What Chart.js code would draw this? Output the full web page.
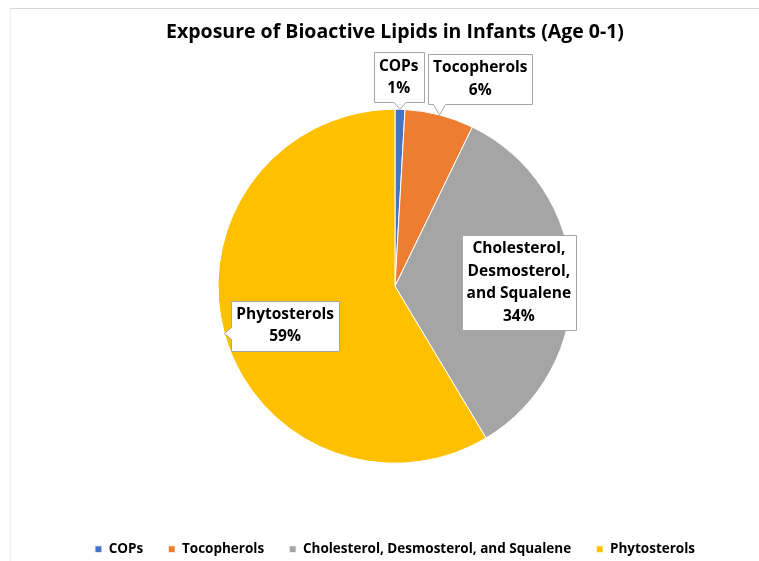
<!DOCTYPE html>
<html>
<head>
<meta charset="utf-8">
<script src="https://cdn.jsdelivr.net/npm/chart.js@4"></script>
<style>
    html, body { margin: 0; padding: 0; background: #ffffff; }
    #wrap { position: relative; width: 759px; height: 561px; overflow: hidden; }
    #frame {
        position: absolute; left: 10px; top: 8px; width: 760px; height: 560px;
        border-top: 1px solid #d9d9d9; border-left: 1px solid #f0f0f0;
    }
    #chart { position: absolute; left: 0; top: 0; }
</style>
</head>
<body>
<div id="wrap">
    <div id="frame"></div>
    <canvas id="chart" width="759" height="561"></canvas>
</div>
<script>
/* ------------------------------------------------------------
   DATA
------------------------------------------------------------ */
const categories = ["COPs", "Tocopherols", "Cholesterol, Desmosterol, and Squalene", "Phytosterols"];
const shares = [0.9, 6.3, 34.2, 58.6];
const labelLines = [
    ["COPs"],
    ["Tocopherols"],
    ["Cholesterol,", "Desmosterol,", "and Squalene"],
    ["Phytosterols"]
];

/* ------------------------------------------------------------
   THEME / LAYOUT
------------------------------------------------------------ */
const COLORS = ["#4472C4", "#ED7D31", "#A5A5A5", "#FFC000"];
const FONT = "'Open Sans', sans-serif";

// label box placement: distance as fraction of radius, angle nudge (deg)
const LABEL_POS = [
    { f: 1.18, nudge: -0.6 },
    { f: 1.265, nudge: 7.8 },
    { f: 0.70, nudge: 0.8 },
    { f: 0.66, nudge: -4.3 }
];

/* ------------------------------------------------------------
   CALLOUT LABEL PLUGIN
------------------------------------------------------------ */
const calloutLabels = {
    id: "calloutLabels",
    afterDatasetsDraw(chart) {
        const ctx = chart.ctx;
        const meta = chart.getDatasetMeta(0);
        const total = shares.reduce((a, b) => a + b, 0);
        const fontSize = 15.5;
        const lh = 22.5;

        ctx.save();
        ctx.font = `bold ${fontSize}px ${FONT}`;
        ctx.textAlign = "center";
        ctx.textBaseline = "middle";

        meta.data.forEach((arc, i) => {
            const p = arc.getProps(["x", "y", "startAngle", "endAngle", "outerRadius"], true);
            const mid = (p.startAngle + p.endAngle) / 2;
            const ang = mid + LABEL_POS[i].nudge * Math.PI / 180;
            const cx = p.x + Math.cos(ang) * p.outerRadius * LABEL_POS[i].f;
            const cy = p.y + Math.sin(ang) * p.outerRadius * LABEL_POS[i].f;

            const lines = labelLines[i].concat([Math.round(shares[i] / total * 100) + "%"]);
            const w = Math.max(...lines.map(l => ctx.measureText(l).width)) + 10;
            const h = lines.length * lh + 5;
            const L = Math.round(cx - w / 2) + 0.5, R = Math.round(cx + w / 2) + 0.5;
            const T = Math.round(cy - h / 2) + 0.5, B = Math.round(cy + h / 2) + 0.5;

            // pointer tip at outer edge, mid angle
            const tx = p.x + Math.cos(mid) * p.outerRadius;
            const ty = p.y + Math.sin(mid) * p.outerRadius;
            const hw = 6;

            ctx.beginPath();
            if (ty > B) {
                const bx = Math.min(Math.max(tx, L + 8), R - 8);
                ctx.moveTo(L, T); ctx.lineTo(R, T); ctx.lineTo(R, B);
                ctx.lineTo(bx + hw, B); ctx.lineTo(tx, ty); ctx.lineTo(bx - hw, B);
                ctx.lineTo(L, B);
            } else if (tx < L) {
                const by = Math.min(Math.max(ty, T + 8), B - 8);
                ctx.moveTo(L, T); ctx.lineTo(R, T); ctx.lineTo(R, B); ctx.lineTo(L, B);
                ctx.lineTo(L, by + hw); ctx.lineTo(tx, ty); ctx.lineTo(L, by - hw);
            } else {
                ctx.rect(L, T, R - L, B - T);
            }
            ctx.closePath();
            ctx.fillStyle = "#ffffff";
            ctx.fill();
            ctx.strokeStyle = "#a6a6a6";
            ctx.lineWidth = 1;
            ctx.stroke();

            ctx.fillStyle = "#000000";
            const y0 = cy - (lines.length - 1) * lh / 2;
            lines.forEach((l, k) => ctx.fillText(l, cx, y0 + k * lh));
        });
        ctx.restore();
    }
};

/* ------------------------------------------------------------
   CHART
------------------------------------------------------------ */
new Chart(document.getElementById("chart"), {
    type: "pie",
    data: {
        labels: categories,
        datasets: [{
            data: shares,
            backgroundColor: COLORS,
            borderColor: "#ffffff",
            borderWidth: 1,
            radius: 177
        }]
    },
    options: {
        responsive: false,
        animation: false,
        layout: { padding: { left: 31, right: 0, top: 0, bottom: -5 } },
        plugins: {
            title: {
                display: true,
                text: "Exposure of Bioactive Lipids in Infants (Age 0-1)",
                color: "#000000",
                font: { family: FONT, size: 19.5, weight: "bold", lineHeight: 1.2 },
                padding: { top: 21, bottom: 10.6 }
            },
            legend: {
                position: "bottom",
                labels: {
                    color: "#000000",
                    font: { family: FONT, size: 13.5, weight: "bold" },
                    boxWidth: 7,
                    boxHeight: 7,
                    padding: 25
                }
            },
            tooltip: { enabled: false }
        }
    },
    plugins: [calloutLabels]
});
</script>
</body>
</html>
